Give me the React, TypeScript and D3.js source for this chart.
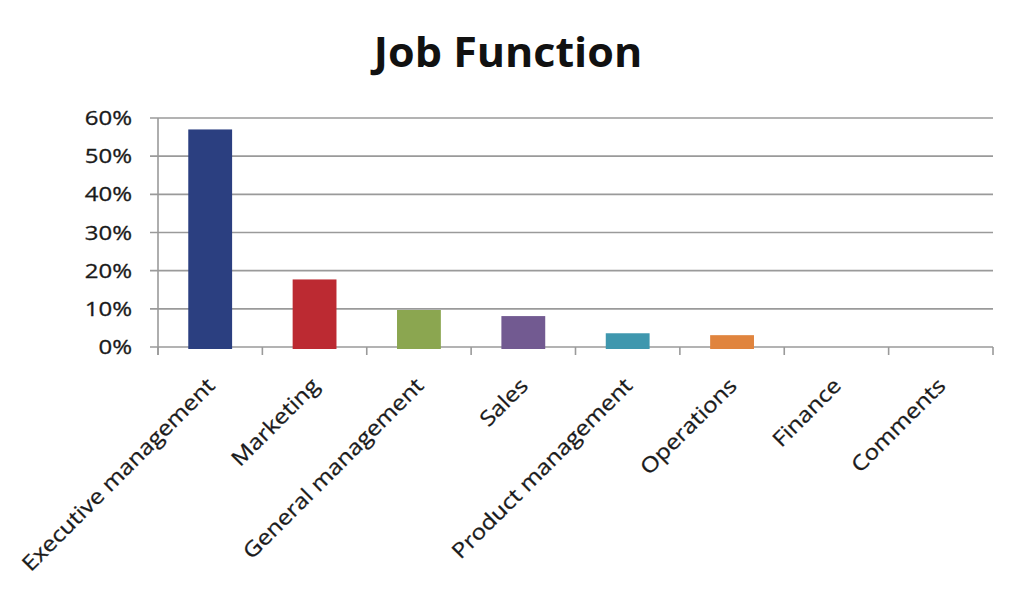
import React from "react";
import * as d3 from "d3";

const title = "Job Function";
const categories = [
  "Executive management",
  "Marketing",
  "General management",
  "Sales",
  "Product management",
  "Operations",
  "Finance",
  "Comments",
];
const values = [0.57, 0.177, 0.097, 0.081, 0.036, 0.031, 0, 0];
const barColors = ["#2B3F80", "#BC2A32", "#8BA650", "#725A91", "#3F97AE", "#E0843E", "#888888", "#888888"];
const yTicks = [0, 0.1, 0.2, 0.3, 0.4, 0.5, 0.6];

const W = 1024;
const H = 597;
const left = 158;
const right = 993;
const top = 118;
const bottom = 347;
const font = "'Open Sans', sans-serif";

export default function App() {
  const x = d3
    .scaleBand<string>()
    .domain(categories)
    .range([left, right])
    .paddingInner(0.58)
    .paddingOuter(0.29);
  const y = d3.scaleLinear().domain([0, 0.6]).range([bottom, top]);
  const step = x.step();
  const fmt = d3.format(".0%");
  const grid = "#9a9a9a";

  return (
    <svg
      width={W}
      height={H}
      style={{ position: "absolute", left: 0, top: 0, background: "#fff" }}
    >
      <rect x={0} y={0} width={W} height={H} fill="#fff" />
      <text
        x={0}
        y={0}
        transform={`translate(508,67) scale(1.05,1)`}
        textAnchor="middle"
        fontFamily={font}
        fontWeight="bold"
        fontSize={41}
        fill="#111"
      >
        {title}
      </text>

      {/* gridlines + y ticks */}
      {yTicks.map((t) => (
        <g key={t}>
          <line x1={left - 8} x2={right} y1={y(t)} y2={y(t)} stroke={grid} strokeWidth={1.6} />
          <text
            transform={`translate(132,${y(t) + 7}) scale(1.2,1)`}
            textAnchor="end"
            fontFamily={font}
            fontSize={20}
            fill="#1a1a1a"
            stroke="#1a1a1a"
            strokeWidth={0.3}
          >
            {fmt(t)}
          </text>
        </g>
      ))}

      {/* y axis */}
      <line x1={left} x2={left} y1={top} y2={bottom + 8} stroke={grid} strokeWidth={1.6} />

      {/* x ticks */}
      {d3.range(categories.length + 1).map((i) => (
        <line
          key={i}
          x1={left + i * step}
          x2={left + i * step}
          y1={bottom}
          y2={bottom + 8}
          stroke={grid}
          strokeWidth={1.6}
        />
      ))}

      {/* bars */}
      {categories.map((c, i) =>
        values[i] > 0 ? (
          <rect
            key={c}
            x={x(c)}
            y={y(values[i])}
            width={x.bandwidth()}
            height={bottom + 2 - y(values[i])}
            fill={barColors[i]}
          />
        ) : null
      )}

      {/* x labels */}
      {categories.map((c) => {
        const cx = (x(c) as number) + x.bandwidth() / 2;
        return (
          <text
            key={c}
            transform={`translate(${cx + 6},${bottom + 40}) rotate(-45) scale(1.15,1)`}
            textAnchor="end"
            fontFamily={font}
            fontSize={21}
            fill="#1a1a1a"
            stroke="#1a1a1a"
            strokeWidth={0.3}
          >
            {c}
          </text>
        );
      })}
    </svg>
  );
}
